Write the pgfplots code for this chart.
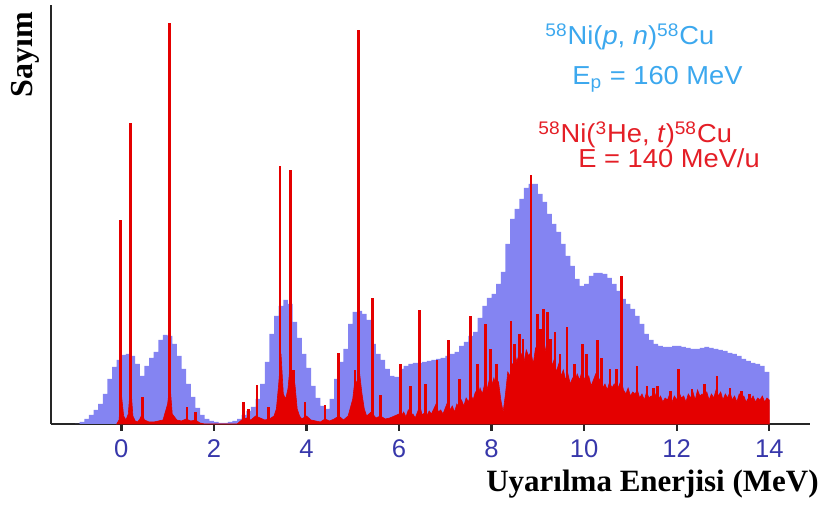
\documentclass[border=0pt]{standalone}
\usepackage{pgfplots}
\pgfplotsset{compat=1.18}
\usepackage{fontspec}
\setmainfont{Liberation Serif}
\newfontfamily\arial{Liberation Sans}
\newfontfamily\arialw[FakeStretch=1.05]{Liberation Sans}
\definecolor{bluefill}{RGB}{132,132,242}
\definecolor{redc}{RGB}{228,0,0}
\definecolor{navy}{RGB}{55,55,170}
\definecolor{skyt}{RGB}{60,168,238}
\definecolor{redt}{RGB}{228,30,38}
\begin{document}
\begin{tikzpicture}
\begin{axis}[
  at={(0,0)}, anchor=south west,
  scale only axis, width=379.5pt, height=209.5pt,
  xmin=-1.52, xmax=14.88, ymin=0, ymax=419,
  axis lines=left,
  axis line style={-, line width=1.3pt, color=black!85},
  xtick={0,2,4,6,8,10,12,14}, ytick=\empty,
  tick align=outside, major tick length=3.5pt,
  tick style={line width=1.2pt, color=black!85},
  /pgf/number format/assume math mode=true,
  xticklabel style={font=\arial\fontsize{12.8}{14}\selectfont, text=navy, yshift=-1pt},
  clip=false,
]
% 58Ni(p,n) histogram
\addplot[const plot, fill=bluefill, draw=none] coordinates {
(-1.0,0) (-0.9,2) (-0.8,5) (-0.7,9) (-0.6,14) (-0.5,20) (-0.4,30) (-0.3,45) (-0.2,57) (-0.1,64)
(0.0,69) (0.1,70) (0.2,68) (0.3,60) (0.4,48) (0.5,58) (0.6,66) (0.7,72) (0.8,84) (0.9,89)
(1.0,88) (1.1,80) (1.2,68) (1.3,55) (1.4,40) (1.5,27) (1.6,16) (1.7,9) (1.8,5) (1.9,3)
(2.0,2) (2.1,1) (2.2,1) (2.3,2) (2.4,3) (2.5,5) (2.6,9) (2.7,13) (2.8,17) (2.9,25)
(3.0,40) (3.1,62) (3.2,90) (3.3,108) (3.4,118) (3.5,124) (3.6,120) (3.7,102) (3.8,86) (3.9,70)
(4.0,56) (4.1,38) (4.2,26) (4.3,18) (4.4,15) (4.5,25) (4.6,45) (4.7,62) (4.8,75) (4.9,100)
(5.0,112) (5.1,113) (5.2,110) (5.3,104) (5.4,80) (5.5,70) (5.6,64) (5.7,55) (5.8,48) (5.9,47)
(6.0,55) (6.1,58) (6.2,60) (6.3,61) (6.4,61) (6.5,62) (6.6,63) (6.7,64) (6.8,65) (6.9,66)
(7.0,68) (7.1,70) (7.2,72) (7.3,78) (7.4,82) (7.5,88) (7.6,92) (7.7,106) (7.8,118) (7.9,126)
(8.0,130) (8.1,140) (8.2,152) (8.3,180) (8.4,205) (8.5,215) (8.6,225) (8.7,236) (8.8,240) (8.9,240)
(9.0,230) (9.1,222) (9.2,210) (9.3,200) (9.4,192) (9.5,180) (9.6,168) (9.7,158) (9.8,145) (9.9,138)
(10.0,140) (10.1,148) (10.2,151) (10.3,151) (10.4,150) (10.5,146) (10.6,140) (10.7,133) (10.8,125) (10.9,120)
(11.0,115) (11.1,108) (11.2,100) (11.3,90) (11.4,84) (11.5,80) (11.6,78) (11.7,77) (11.8,77) (11.9,78)
(12.0,78) (12.1,77) (12.2,76) (12.3,75) (12.4,75) (12.5,76) (12.6,77) (12.7,76) (12.8,75) (12.9,74)
(13.0,73) (13.1,71) (13.2,70) (13.3,68) (13.4,65) (13.5,63) (13.6,61) (13.7,60) (13.8,58) (13.9,52)
(14.0,52)
} \closedcycle;
% 58Ni(3He,t) continuum
\addplot[fill=redc, draw=redc, line width=0.3pt] coordinates {
(-0.1,0) (-0.05,4) (0.0,30) (0.05,8) (0.1,4) (0.15,10) (0.2,40) (0.25,8) (0.3,3) (0.35,2) (0.4,5) (0.45,10) (0.5,4) (0.6,2) (0.7,2) (0.8,3) (0.9,4) (1.0,20) (1.05,40) (1.1,10) (1.2,4) (1.3,3) (1.4,5) (1.5,3) (1.6,4) (1.7,1) (1.8,0) (2.5,0) (2.6,4) (2.7,6) (2.8,4) (2.9,8) (3.0,6) (3.1,4) (3.2,5) (3.3,8) (3.35,15) (3.4,40) (3.45,70) (3.5,30) (3.55,25) (3.6,35) (3.65,60) (3.7,50) (3.75,40) (3.8,15) (3.85,8) (3.9,5) (4.0,8) (4.1,4) (4.2,3) (4.3,2) (4.4,5) (4.5,3) (4.6,5) (4.7,8) (4.8,4) (4.9,8) (5.0,25) (5.05,45) (5.1,40) (5.15,50) (5.2,30) (5.25,15) (5.3,8) (5.4,12) (5.5,6) (5.6,8) (5.7,5) (5.8,6) (5.9,8) (6.0,10)
(6.05,8) (6.10,12) (6.15,7) (6.20,14) (6.25,9) (6.30,10) (6.35,6) (6.40,12) (6.45,18) (6.50,9) (6.55,11) (6.60,8) (6.65,13) (6.70,10) (6.75,15) (6.80,20) (6.85,12) (6.90,14) (6.95,10) (7.00,16)
(7.05,22) (7.10,14) (7.15,18) (7.20,12) (7.25,20) (7.30,16) (7.35,24) (7.40,18) (7.45,26) (7.50,22) (7.55,30) (7.60,24) (7.65,32) (7.70,26) (7.75,36) (7.80,30) (7.85,40) (7.90,34) (7.95,44) (8.00,38)
(8.05,46) (8.10,36) (8.15,42) (8.20,24) (8.25,12) (8.30,30) (8.35,52) (8.40,48) (8.45,60) (8.50,55) (8.55,66) (8.60,58) (8.65,70) (8.70,62) (8.75,74) (8.80,68) (8.85,72) (8.90,60) (8.95,76) (9.00,70)
(9.05,80) (9.10,72) (9.15,78) (9.20,66) (9.25,70) (9.30,58) (9.35,64) (9.40,52) (9.45,60) (9.50,48) (9.55,54) (9.60,44) (9.65,50) (9.70,40) (9.75,46) (9.80,42) (9.85,50) (9.90,44) (9.95,52) (10.00,46)
(10.05,40) (10.10,48) (10.15,38) (10.20,44) (10.25,50) (10.30,42) (10.35,46) (10.40,36) (10.45,40) (10.50,34) (10.55,42) (10.60,36) (10.65,40) (10.70,32) (10.75,38) (10.80,44) (10.85,34) (10.90,30) (10.95,36) (11.00,28)
(11.05,32) (11.10,30) (11.15,34) (11.20,26) (11.25,30) (11.30,24) (11.35,32) (11.40,26) (11.45,28) (11.50,22) (11.55,30) (11.60,24) (11.65,28) (11.70,22) (11.75,26) (11.80,24) (11.85,30) (11.90,22) (11.95,28) (12.00,24)
(12.05,32) (12.10,26) (12.15,28) (12.20,22) (12.25,30) (12.30,26) (12.35,32) (12.40,24) (12.45,34) (12.50,28) (12.55,30) (12.60,26) (12.65,32) (12.70,24) (12.75,30) (12.80,26) (12.85,34) (12.90,28) (12.95,32) (13.00,24)
(13.05,30) (13.10,26) (13.15,32) (13.20,24) (13.25,28) (13.30,22) (13.35,30) (13.40,26) (13.45,28) (13.50,22) (13.55,26) (13.60,24) (13.65,28) (13.70,22) (13.75,26) (13.80,24) (13.85,28) (13.90,22) (13.95,26) (14.00,24)
} \closedcycle;
% 58Ni(3He,t) peaks
\addplot[ycomb, draw=redc, line width=1.4pt, mark=none] coordinates {
(-0.02,204) (0.19,301) (0.45,27) (1.04,401) (1.42,17) (1.60,12) (2.64,22) (2.75,15) (2.93,39) (3.18,17)
(3.43,258) (3.65,254) (3.72,54) (3.97,22) (4.40,19) (4.70,71) (5.05,54) (5.12,394) (5.42,126) (5.60,29)
(6.03,60) (6.24,38) (6.44,114) (6.58,40) (6.82,64) (7.07,84) (7.30,45) (7.54,108) (7.70,60) (7.86,100) (7.97,75)
(8.10,60) (8.42,103) (8.50,80) (8.60,90) (8.68,85) (8.85,249) (9.00,110) (9.05,95) (9.13,115) (9.20,112) (9.27,85)
(9.37,92) (9.48,70) (9.63,97) (9.80,60) (9.96,80) (10.05,70) (10.28,84) (10.38,66) (10.56,55) (10.70,55)
(10.80,148) (11.14,58) (11.36,38) (11.50,36) (11.58,38) (11.86,33) (12.03,55) (12.33,35) (12.60,40) (12.87,48)
(13.15,36) (13.40,33) (13.58,30)
};
\end{axis}
\node[rotate=90, font=\bfseries\fontsize{16}{18}\selectfont] at (-13pt,184.5pt) {Sayım};
\node[anchor=base, font=\bfseries\fontsize{15.5}{18}\selectfont] at (300.75pt,-34pt) {Uyarılma Enerjisi (MeV)};
\node[anchor=base west, inner sep=0pt, text=skyt, font=\arialw\fontsize{13}{16}\selectfont] at (247pt,189.5pt) {\textsuperscript{58}Ni(\textit{p}, \textit{n})\textsuperscript{58}Cu};
\node[anchor=base west, inner sep=0pt, text=skyt, font=\arialw\fontsize{13}{16}\selectfont] at (260.5pt,169.5pt) {E\textsubscript{p} = 160 MeV};
\node[anchor=base west, inner sep=0pt, text=redt, font=\arialw\fontsize{13}{16}\selectfont] at (243.5pt,140.5pt) {\textsuperscript{58}Ni(\textsuperscript{3}He, \textit{t})\textsuperscript{58}Cu};
\node[anchor=base west, inner sep=0pt, text=redt, font=\arialw\fontsize{13}{16}\selectfont] at (263.5pt,128pt) {E = 140 MeV/u};
\pgfresetboundingbox
\path (-25.5pt,-41pt) rectangle (387.5pt,212pt);
\end{tikzpicture}
\end{document}
